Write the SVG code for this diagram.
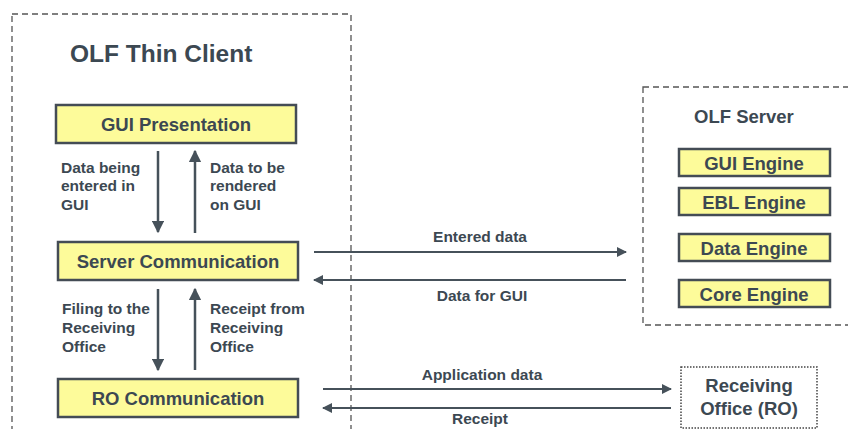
<svg xmlns="http://www.w3.org/2000/svg" width="848" height="429" viewBox="0 0 848 429">
<defs>
<style>
.t{font-family:"Liberation Sans",Arial,sans-serif;font-weight:bold;fill:#3c4852}
.s{font-size:15.5px}
.m{font-size:18.5px}
.box{fill:#fdfb9a;stroke:#444c55;stroke-width:2.5}
.ln{stroke:#46515a;stroke-width:2.5;fill:none}
.hl{stroke:#46515a;stroke-width:2;fill:none}
.dash{fill:none;stroke:#555;stroke-width:1.3;stroke-dasharray:6,4}
</style>
<marker id="ah" viewBox="0 0 10 10" refX="9" refY="5" markerWidth="5" markerHeight="5" orient="auto" markerUnits="strokeWidth">
<path d="M0,0 L10,5 L0,10 z" fill="#46515a"/>
</marker>
</defs>
<rect width="848" height="429" fill="#fff"/>
<g id="thin-client">
<rect class="dash" x="12" y="14" width="339" height="430"/>
<text class="t" x="70" y="62" font-size="24.5">OLF Thin Client</text>
</g>
<g id="gui-presentation">
<rect class="box" x="56" y="105" width="240" height="38"/>
<text class="t m" x="176" y="130.5" text-anchor="middle">GUI Presentation</text>
</g>
<g id="server-communication">
<rect class="box" x="58" y="242" width="240" height="38"/>
<text class="t m" x="178" y="267.5" text-anchor="middle">Server Communication</text>
</g>
<g id="ro-communication">
<rect class="box" x="58" y="379" width="240" height="38"/>
<text class="t m" x="178" y="404.5" text-anchor="middle">RO Communication</text>
</g>
<g id="olf-server">
<rect class="dash" x="643" y="87" width="220" height="238"/>
<text class="t m" x="694" y="123">OLF Server</text>
</g>
<g id="gui-engine">
<rect class="box" x="679" y="149" width="151" height="27"/>
<text class="t m" x="754" y="169.5" text-anchor="middle">GUI Engine</text>
</g>
<g id="ebl-engine">
<rect class="box" x="679" y="188" width="151" height="27"/>
<text class="t m" x="754" y="208.5" text-anchor="middle">EBL Engine</text>
</g>
<g id="data-engine">
<rect class="box" x="679" y="234" width="151" height="27"/>
<text class="t m" x="754" y="254.5" text-anchor="middle">Data Engine</text>
</g>
<g id="core-engine">
<rect class="box" x="679" y="280" width="151" height="27"/>
<text class="t m" x="754" y="300.5" text-anchor="middle">Core Engine</text>
</g>
<g id="receiving-office">
<rect x="681" y="367" width="136" height="61" fill="none" stroke="#444" stroke-width="1.5" stroke-dasharray="1.5,1.5"/>
<text class="t m" x="749" y="392" text-anchor="middle">Receiving</text>
<text class="t m" x="749" y="415" text-anchor="middle">Office (RO)</text>
</g>
<g id="connectors">
<line class="ln" x1="158" y1="151" x2="158" y2="232" marker-end="url(#ah)"/>
<line class="ln" x1="195" y1="233" x2="195" y2="151" marker-end="url(#ah)"/>
<line class="ln" x1="158" y1="289" x2="158" y2="370" marker-end="url(#ah)"/>
<line class="ln" x1="195" y1="370" x2="195" y2="289" marker-end="url(#ah)"/>
<line class="hl" x1="314" y1="252" x2="626" y2="252" marker-end="url(#ah)"/>
<line class="hl" x1="626" y1="280" x2="314" y2="280" marker-end="url(#ah)"/>
<line class="hl" x1="323" y1="389" x2="671" y2="389" marker-end="url(#ah)"/>
<line class="hl" x1="671" y1="408" x2="323" y2="408" marker-end="url(#ah)"/>
</g>
<g id="labels">
<text class="t s" x="61" y="173">Data being</text>
<text class="t s" x="61" y="191">entered in</text>
<text class="t s" x="61" y="210">GUI</text>
<text class="t s" x="210" y="173">Data to be</text>
<text class="t s" x="210" y="191">rendered</text>
<text class="t s" x="210" y="210">on GUI</text>
<text class="t s" x="62" y="314">Filing to the</text>
<text class="t s" x="62" y="333">Receiving</text>
<text class="t s" x="62" y="352">Office</text>
<text class="t s" x="210" y="314">Receipt from</text>
<text class="t s" x="210" y="333">Receiving</text>
<text class="t s" x="210" y="352">Office</text>
<text class="t s" x="480" y="242" text-anchor="middle">Entered data</text>
<text class="t s" x="482" y="301" text-anchor="middle">Data for GUI</text>
<text class="t s" x="482" y="380" text-anchor="middle">Application data</text>
<text class="t s" x="480" y="424" text-anchor="middle">Receipt</text>
</g>
</svg>
